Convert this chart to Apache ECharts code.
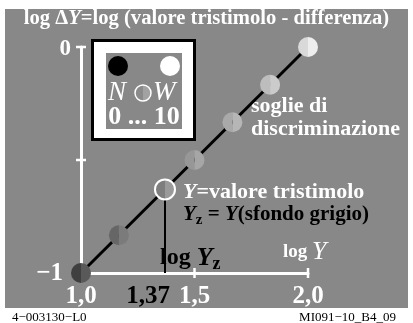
<!DOCTYPE html>
<html>
<head>
<meta charset="utf-8">
<style>
  html, body { margin: 0; padding: 0; background: #ffffff; }
  #chart { width: 413px; height: 323px; }
</style>
<script src="https://cdn.jsdelivr.net/npm/echarts@6/dist/echarts.min.js"></script>
</head>
<body>
<div id="chart"></div>
<script>
// log Y of the thresholds along the discrimination line
const logY = [1.0, 1.167, 1.37, 1.5, 1.667, 1.833, 2.0];
// log ΔY at each threshold
const logDeltaY = [-1.0, -0.833, -0.63, -0.5, -0.333, -0.167, 0.0];
// index of the threshold on the grey surround (Y = Yz)
const surroundIndex = 2;
const surroundLogY = 1.37;
const surroundLabel = '1,37';
// axis ticks and labels
const xLabelValues = [1.0, 1.5, 2.0];
const xTickValues = [1.5, 2.0];
const yLabelValues = [-1, 0];
const yTickValues = [-0.5, 0];
// end points of the line log ΔY = log Y − 2
const linePoints = [[1.0, -1.0], [2.0, 0.0]];

// left / right half shades of each threshold disc
const halfShades = [
  ['#3f3f3f', '#595959'],
  ['#666666', '#7b7b7b'],
  ['#7e7e7e', '#9a9a9a'],
  ['#979797', '#a6a6a6'],
  ['#a9a9a9', '#b6b6b6'],
  ['#bdbdbd', '#cbcbcb'],
  ['#d9d9d9', '#eeeeee']
];

const BG = '#888888';
const SERIF = '"Liberation Serif", "DejaVu Serif", serif';
const TICK_HALF = 5;

const chart = echarts.init(document.getElementById('chart'), null, { renderer: 'canvas' });

function halfDisc(cx, cy, r, left, right) {
  return [
    { type: 'sector', shape: { cx, cy, r, r0: 0, startAngle: Math.PI / 2, endAngle: Math.PI * 1.5 }, style: { fill: left } },
    { type: 'sector', shape: { cx, cy, r, r0: 0, startAngle: -Math.PI / 2, endAngle: Math.PI / 2 }, style: { fill: right } }
  ];
}

const option = {
  backgroundColor: '#ffffff',
  animation: false,
  grid: { left: 81, top: 47, width: 227, height: 226 },
  xAxis: {
    type: 'value', min: 1, max: 2,
    splitLine: { show: false },
    axisLine: { show: true, onZero: false, lineStyle: { color: '#ffffff', width: 3 } },
    axisTick: { show: false },
    axisLabel: {
      show: true, customValues: xLabelValues, margin: 11,
      color: '#ffffff', fontFamily: SERIF, fontWeight: 'bold', fontSize: 25,
      formatter: v => v.toFixed(1).replace('.', ',')
    }
  },
  yAxis: {
    type: 'value', min: -1, max: 0,
    splitLine: { show: false },
    axisLine: { show: true, onZero: false, lineStyle: { color: '#ffffff', width: 3 } },
    axisTick: { show: false },
    axisLabel: {
      show: true, customValues: yLabelValues, margin: 10,
      formatter: v => v === 0 ? '{z|0}' : '{m|−1}',
      rich: {
        z: { color: '#ffffff', fontFamily: SERIF, fontWeight: 'bold', fontSize: 23, padding: [4, 0, 0, 0] },
        m: { color: '#ffffff', fontFamily: SERIF, fontWeight: 'bold', fontSize: 25, padding: [2, 8, 0, 0] }
      }
    }
  },
  graphic: [
    // grey field
    { type: 'rect', z: -10, silent: true, shape: { x: 5, y: 9, width: 403, height: 299 }, style: { fill: BG } },
    // title
    {
      type: 'text', left: 'center', top: 8, silent: true,
      style: {
        text: '{a|log Δ}{i|Y}{a|=log (valore tristimolo - differenza)}',
        rich: {
          a: { fill: '#ffffff', fontFamily: SERIF, fontWeight: 'bold', fontSize: 20.6 },
          i: { fill: '#ffffff', fontFamily: SERIF, fontWeight: 'bold', fontStyle: 'italic', fontSize: 20.6 }
        }
      }
    },
    // legend box: black border, white frame, grey inside
    { type: 'rect', silent: true, shape: { x: 91, y: 39, width: 105, height: 102 }, style: { fill: '#000000' } },
    { type: 'rect', silent: true, shape: { x: 94, y: 42, width: 99, height: 96 }, style: { fill: '#ffffff' } },
    { type: 'rect', silent: true, shape: { x: 106, y: 53, width: 76, height: 76 }, style: { fill: BG } },
    { type: 'circle', silent: true, shape: { cx: 118, cy: 66, r: 10 }, style: { fill: '#000000' } },
    { type: 'circle', silent: true, shape: { cx: 170, cy: 66, r: 10 }, style: { fill: '#ffffff' } },
    {
      type: 'group', silent: true,
      children: halfDisc(143, 93, 8, '#8a8a8a', '#a2a2a2').concat([
        { type: 'circle', shape: { cx: 143, cy: 93, r: 8 }, style: { fill: null, stroke: '#ffffff', lineWidth: 1.5 } }
      ])
    },
    {
      type: 'text', silent: true, x: 108, y: 93,
      style: { text: 'N', fill: '#ffffff', fontFamily: SERIF, fontStyle: 'italic', fontSize: 27, verticalAlign: 'middle' }
    },
    {
      type: 'text', silent: true, x: 153, y: 93,
      style: { text: 'W', fill: '#ffffff', fontFamily: SERIF, fontStyle: 'italic', fontSize: 27, verticalAlign: 'middle' }
    },
    {
      type: 'text', silent: true, x: 144, y: 117,
      style: { text: '0 ... 10', fill: '#ffffff', fontFamily: SERIF, fontWeight: 'bold', fontSize: 26, align: 'center', verticalAlign: 'middle' }
    },
    // annotations
    {
      type: 'text', silent: true, x: 251, y: 118,
      style: { text: 'soglie di\ndiscriminazione', fill: '#ffffff', fontFamily: SERIF, fontWeight: 'bold', fontSize: 22, lineHeight: 23, verticalAlign: 'middle' }
    },
    {
      type: 'text', silent: true, x: 183, y: 192,
      style: {
        text: '{i|Y}{a|=valore tristimolo}',
        verticalAlign: 'middle',
        rich: {
          a: { fill: '#ffffff', fontFamily: SERIF, fontWeight: 'bold', fontSize: 22 },
          i: { fill: '#ffffff', fontFamily: SERIF, fontWeight: 'bold', fontStyle: 'italic', fontSize: 22 }
        }
      }
    },
    {
      type: 'text', silent: true, x: 183, y: 215,
      style: {
        text: '{i|Y}{s|z}{a| = }{i|Y}{a|(sfondo grigio)}',
        verticalAlign: 'middle',
        rich: {
          a: { fill: '#000000', fontFamily: SERIF, fontWeight: 'bold', fontSize: 21 },
          i: { fill: '#000000', fontFamily: SERIF, fontWeight: 'bold', fontStyle: 'italic', fontSize: 21 },
          s: { fill: '#000000', fontFamily: SERIF, fontWeight: 'bold', fontSize: 15, padding: [10, 0, 0, 0] }
        }
      }
    },
    {
      type: 'text', silent: true, x: 160, y: 258,
      style: {
        text: '{a|log }{i|Y}{s|z}',
        verticalAlign: 'middle',
        rich: {
          a: { fill: '#000000', fontFamily: SERIF, fontWeight: 'bold', fontSize: 24 },
          i: { fill: '#000000', fontFamily: SERIF, fontWeight: 'bold', fontStyle: 'italic', fontSize: 26 },
          s: { fill: '#000000', fontFamily: SERIF, fontWeight: 'bold', fontSize: 18, padding: [12, 0, 0, 0] }
        }
      }
    },
    {
      type: 'text', silent: true, x: 283, y: 252,
      style: {
        text: '{a|log }{i|Y}',
        verticalAlign: 'middle',
        rich: {
          a: { fill: '#ffffff', fontFamily: SERIF, fontWeight: 'bold', fontSize: 19 },
          i: { fill: '#ffffff', fontFamily: SERIF, fontStyle: 'italic', fontSize: 26 }
        }
      }
    },
    // footer codes
    {
      type: 'text', silent: true, x: 12, y: 318,
      style: { text: '4−003130−L0', fill: '#000000', fontFamily: SERIF, fontSize: 13, verticalAlign: 'middle' }
    },
    {
      type: 'text', silent: true, x: 396, y: 318,
      style: { text: 'MI091−10_B4_09', fill: '#000000', fontFamily: SERIF, fontSize: 13, align: 'right', verticalAlign: 'middle' }
    }
  ],
  series: [
    {
      type: 'line', z: 2,
      data: linePoints, symbol: 'none', silent: true,
      lineStyle: { color: '#000000', width: 3 }
    },
    {
      // tick marks crossing the log Y axis
      type: 'custom', z: 3, silent: true,
      data: xTickValues.map(v => [v, -1]),
      renderItem(params, api) {
        const p = api.coord([api.value(0), api.value(1)]);
        return { type: 'line', shape: { x1: p[0], y1: p[1] - TICK_HALF, x2: p[0], y2: p[1] + TICK_HALF }, style: { stroke: '#ffffff', lineWidth: 2.5 } };
      }
    },
    {
      // tick marks crossing the log ΔY axis
      type: 'custom', z: 3, silent: true,
      data: yTickValues.map(v => [1, v]),
      renderItem(params, api) {
        const p = api.coord([api.value(0), api.value(1)]);
        return { type: 'line', shape: { x1: p[0] - TICK_HALF, y1: p[1], x2: p[0] + TICK_HALF, y2: p[1] }, style: { stroke: '#ffffff', lineWidth: 2.5 } };
      }
    },
    {
      // drop line from the surround threshold to the log Y axis, with its value
      type: 'custom', z: 3, silent: true,
      data: [[surroundLogY, logDeltaY[surroundIndex]]],
      renderItem(params, api) {
        const top = api.coord([api.value(0), api.value(1)]);
        const base = api.coord([api.value(0), -1]);
        return {
          type: 'group',
          children: [
            { type: 'line', shape: { x1: top[0], y1: top[1], x2: base[0], y2: base[1] }, style: { stroke: '#000000', lineWidth: 2 } },
            {
              type: 'text', x: base[0] + 5, y: base[1] + 24,
              style: { text: surroundLabel, fill: '#000000', fontFamily: SERIF, fontWeight: 'bold', fontSize: 25, align: 'right', verticalAlign: 'middle' }
            }
          ]
        };
      }
    },
    {
      type: 'custom', z: 5, silent: true,
      data: logY.map((x, i) => [x, logDeltaY[i]]),
      renderItem(params, api) {
        const p = api.coord([api.value(0), api.value(1)]);
        const i = params.dataIndex;
        const r = 10;
        const children = halfDisc(p[0], p[1], r, halfShades[i][0], halfShades[i][1]);
        if (i === surroundIndex) {
          children.push({ type: 'circle', shape: { cx: p[0], cy: p[1], r: r }, style: { fill: null, stroke: '#ffffff', lineWidth: 2 } });
        }
        return { type: 'group', children };
      }
    }
  ]
};

chart.setOption(option);
</script>
</body>
</html>
